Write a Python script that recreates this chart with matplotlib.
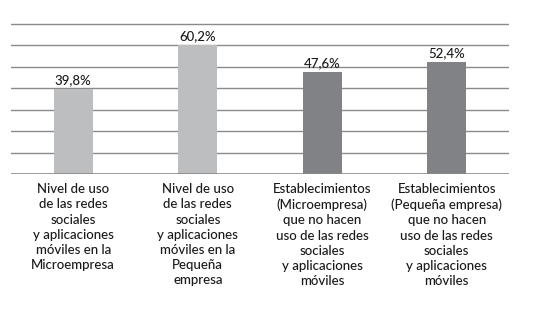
import matplotlib
matplotlib.use("Agg")
import matplotlib.pyplot as plt

# data
categories = [
    "Nivel de uso\nde las redes\nsociales\ny aplicaciones\nmóviles en la\nMicroempresa",
    "Nivel de uso\nde las redes\nsociales\ny aplicaciones\nmóviles en la\nPequeña\nempresa",
    "Establecimientos\n(Microempresa)\nque no hacen\nuso de las redes\nsociales\ny aplicaciones\nmóviles",
    "Establecimientos\n(Pequeña empresa)\nque no hacen\nuso de las redes\nsociales\ny aplicaciones\nmóviles",
]
values = [39.8, 60.2, 47.6, 52.4]
value_labels = ["39,8%", "60,2%", "47,6%", "52,4%"]
bar_colors = ["#bcbec0", "#bcbec0", "#808285", "#808285"]
grid_levels = [10, 20, 30, 40, 50, 60, 70]

plt.rcParams["font.family"] = ["Lato", "DejaVu Sans"]

fig = plt.figure(figsize=(5.36, 3.16), dpi=100)
ax = fig.add_axes([11 / 536, 1 - 174 / 316, 498 / 536, 151 / 316])

x = list(range(len(values)))
ax.bar(x, values, width=0.31, color=bar_colors, zorder=3)

for lvl in grid_levels:
    ax.axhline(lvl, color="#8a8a8a", linewidth=1.0, zorder=1)
ax.axhline(0, color="#8a8a8a", linewidth=1.2, zorder=4)

for xi, v, lab in zip(x, values, value_labels):
    ax.text(xi, v + 1.4, lab, ha="center", va="bottom", fontsize=9.5,
            color="#1a1a1a", fontweight="medium")

for xi, cat in zip(x, categories):
    ax.text(xi, -4.3, cat, ha="center", va="top", fontsize=9.5, color="#1a1a1a",
            linespacing=1.32, fontweight="medium")

ax.set_xlim(-0.5, 3.5)
ax.set_ylim(0, 70.5)
ax.axis("off")

fig.savefig("out.png", dpi=100)
